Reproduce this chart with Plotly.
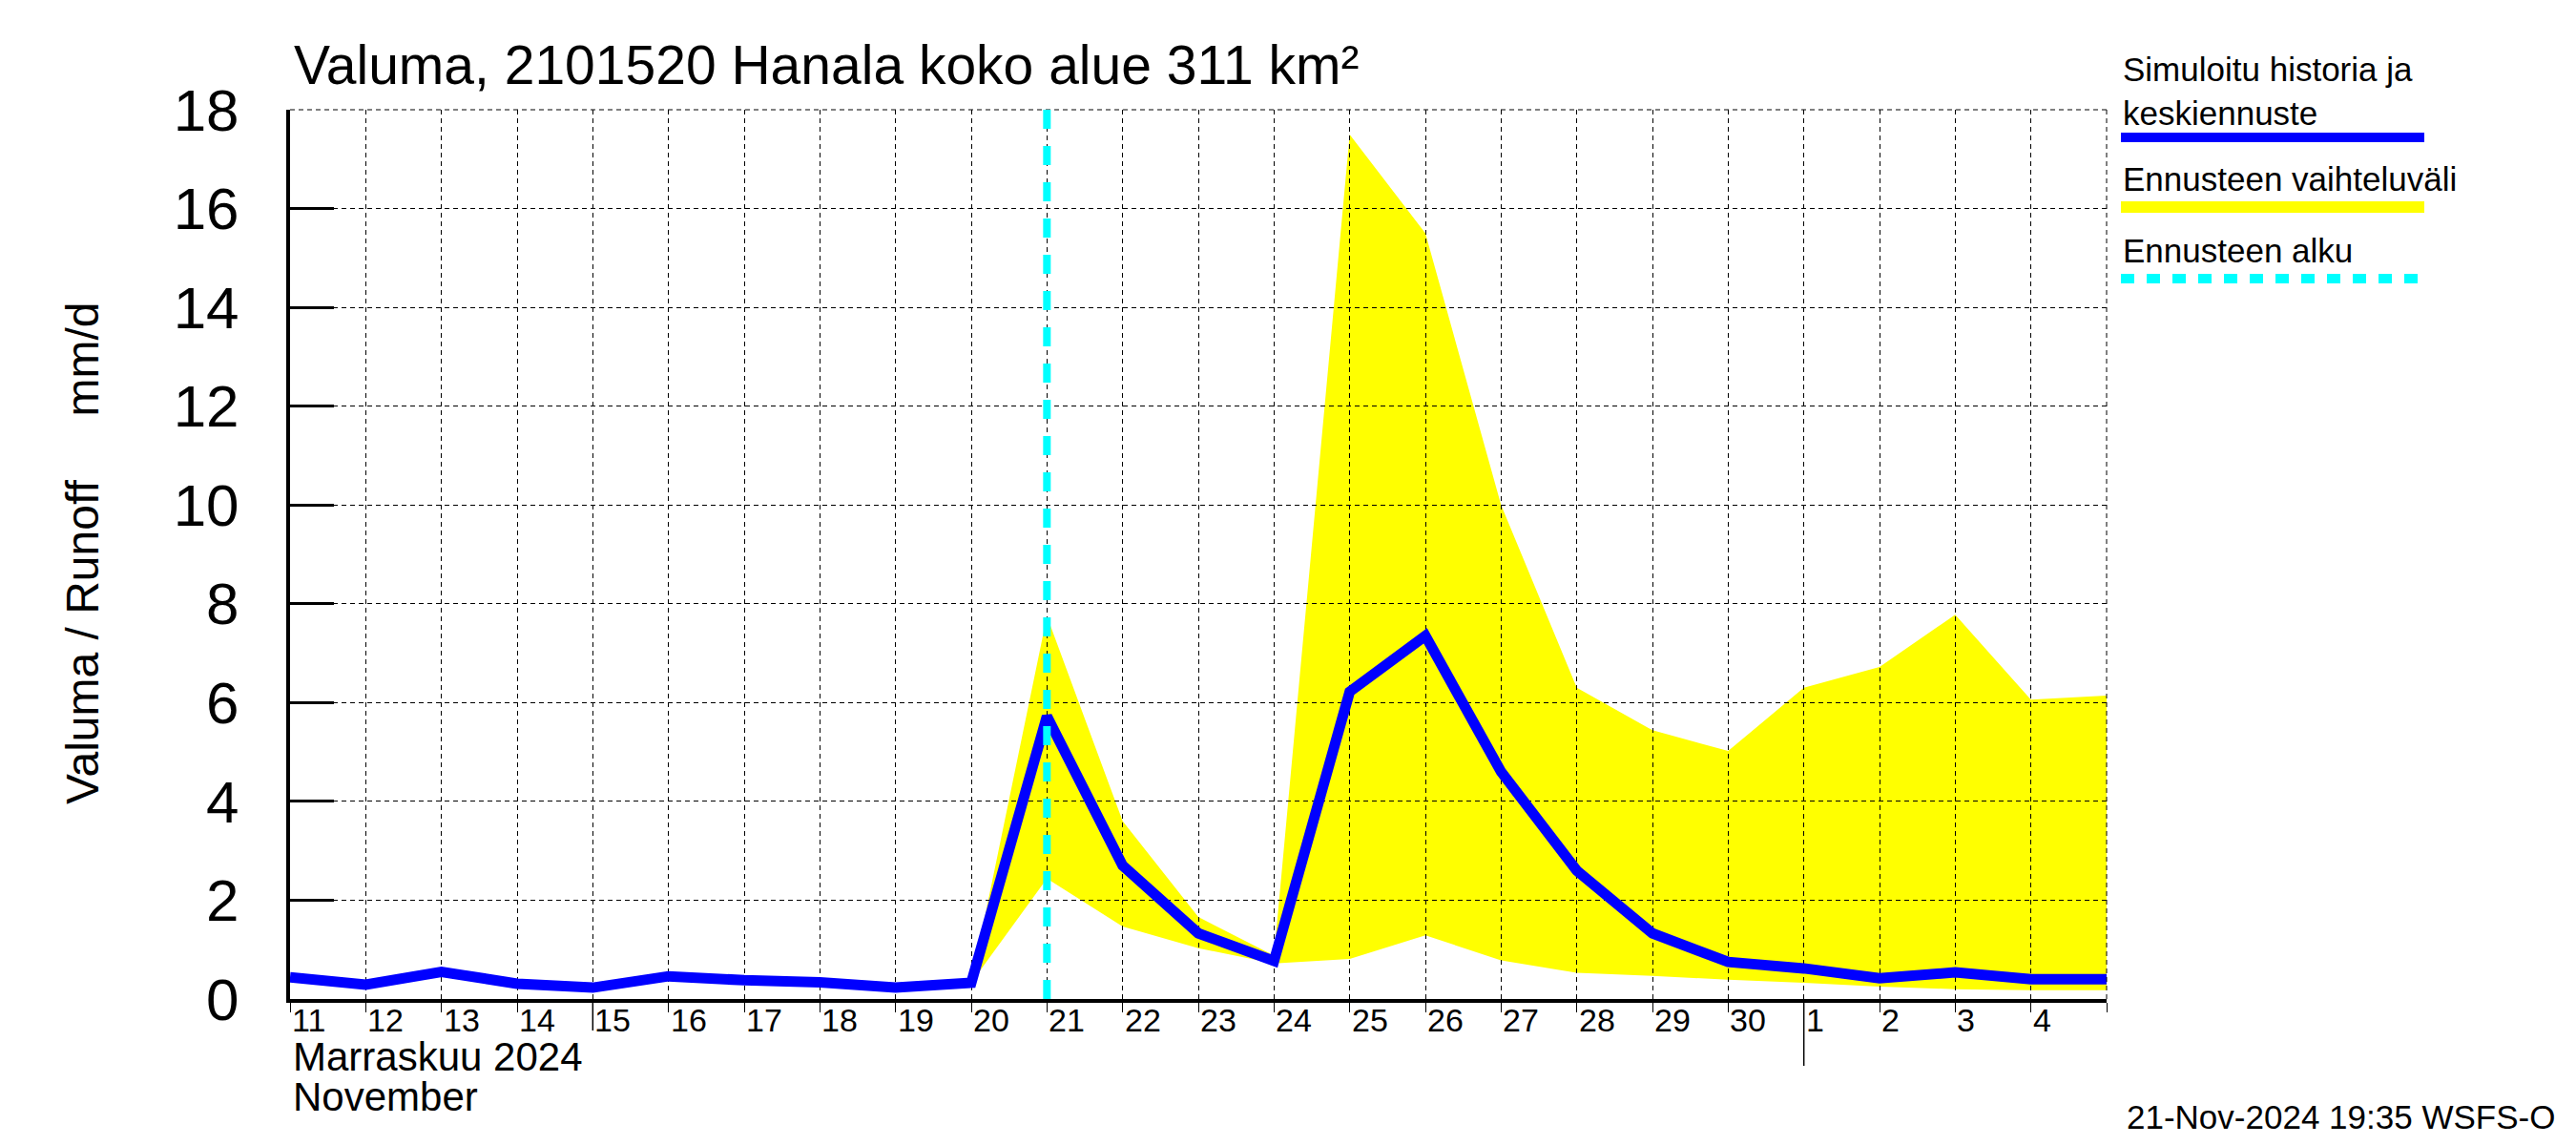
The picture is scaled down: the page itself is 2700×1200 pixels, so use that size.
import plotly.graph_objects as go

# ---------------- data ----------------
dates = ["2024-11-11", "2024-11-12", "2024-11-13", "2024-11-14", "2024-11-15",
         "2024-11-16", "2024-11-17", "2024-11-18", "2024-11-19", "2024-11-20",
         "2024-11-21", "2024-11-22", "2024-11-23", "2024-11-24", "2024-11-25",
         "2024-11-26", "2024-11-27", "2024-11-28", "2024-11-29", "2024-11-30",
         "2024-12-01", "2024-12-02", "2024-12-03", "2024-12-04", "2024-12-05"]
simulated = [0.44, 0.29, 0.55, 0.31, 0.23, 0.46, 0.38, 0.34, 0.23, 0.33,
             5.72, 2.70, 1.33, 0.77, 6.22, 7.35, 4.60, 2.60, 1.33, 0.75,
             0.62, 0.42, 0.54, 0.40, 0.40]

fc_dates = ["2024-11-20", "2024-11-21", "2024-11-22", "2024-11-23", "2024-11-24",
            "2024-11-25", "2024-11-26", "2024-11-27", "2024-11-28", "2024-11-29",
            "2024-11-30", "2024-12-01", "2024-12-02", "2024-12-03", "2024-12-04",
            "2024-12-05"]
fc_upper = [0.33, 7.75, 3.60, 1.66, 0.88, 17.5, 15.5, 10.0, 6.30, 5.44,
            5.02, 6.30, 6.72, 7.78, 6.06, 6.14]
fc_lower = [0.33, 2.44, 1.47, 1.03, 0.72, 0.81, 1.29, 0.78, 0.53, 0.47,
            0.39, 0.33, 0.25, 0.20, 0.18, 0.18]

forecast_start = "2024-11-21"
x_range = ["2024-11-11", "2024-12-05"]
y_range = [0, 18]
y_ticks = [0, 2, 4, 6, 8, 10, 12, 14, 16, 18]

day_tick_dates = dates[:-1]
day_tick_labels = ["11", "12", "13", "14", "15", "16", "17", "18", "19", "20",
                   "21", "22", "23", "24", "25", "26", "27", "28", "29", "30",
                   "1", "2", "3", "4"]
long_tick_dates = ["2024-11-15", "2024-12-01"]
long_tick_lengths = [33, 70]

title_text = "Valuma, 2101520 Hanala koko alue 311 km²"
y_title = "Valuma / Runoff\u00a0\u00a0\u00a0\u00a0\u00a0mm/d"
month_fi = "Marraskuu 2024"
month_en = "November"
stamp = "21-Nov-2024 19:35 WSFS-O"
legend_labels = ["Simuloitu historia ja<br>keskiennuste", "Ennusteen vaihteluväli", "Ennusteen alku"]

# ---------------- layout geometry ----------------
# reference pixel frame of the plot area
L, R, T, B = 304, 2208, 115, 1047
OFF = 8  # page body margin
W, H = 2700 - OFF, 1200 - OFF
FONT = "Liberation Sans, Arial, Helvetica, sans-serif"
BLUE, YELLOW, CYAN = "#0000FF", "#FFFF00", "#00FFFF"


def px(p):
    return (p - L) / (R - L)


def py(p):
    return (B - p) / (B - T)


fig = go.Figure()

# yellow band on subplot 1 (below the grid of subplot 2)
fig.add_trace(go.Scatter(x=fc_dates, y=fc_upper, mode="lines",
                         line=dict(width=0, color=YELLOW),
                         xaxis="x", yaxis="y", showlegend=False, hoverinfo="skip"))
fig.add_trace(go.Scatter(x=fc_dates, y=fc_lower, mode="lines",
                         line=dict(width=0, color=YELLOW), fill="tonexty",
                         fillcolor=YELLOW,
                         xaxis="x", yaxis="y", showlegend=False, hoverinfo="skip"))

# simulated line on subplot 2
fig.add_trace(go.Scatter(x=dates, y=simulated, mode="lines",
                         line=dict(width=11, color=BLUE),
                         xaxis="x2", yaxis="y2", showlegend=False))

grid_dash = "5px,4px"
common_x = dict(type="date", range=x_range, domain=[0, 1])
common_y = dict(range=y_range, domain=[0, 1])

fig.update_layout(
    width=W, height=H,
    margin=dict(l=L - OFF, r=W - (R - OFF), t=T - OFF, b=H - (B - OFF), pad=0),
    paper_bgcolor="white",
    plot_bgcolor="rgba(0,0,0,0)",
    font=dict(family=FONT, color="black"),
    xaxis=dict(**common_x, visible=False, anchor="y"),
    yaxis=dict(**common_y, visible=False, anchor="x"),
    xaxis2=dict(**common_x, anchor="y2",
                tick0=x_range[0], dtick=86400000,
                showgrid=True, gridcolor="black", gridwidth=1, griddash=grid_dash,
                ticks="outside", ticklen=10, tickwidth=1, tickcolor="black",
                showticklabels=False,
                showline=True, linecolor="black", linewidth=4,
                zeroline=False),
    yaxis2=dict(**common_y, anchor="x2",
                tickmode="array", tickvals=y_ticks,
                ticktext=[str(v) for v in y_ticks],
                showgrid=True, gridcolor="black", gridwidth=1, griddash=grid_dash,
                ticks="inside", ticklen=46, tickwidth=3, tickcolor="black",
                tickfont=dict(size=62, family=FONT, color="black"),
                ticklabelstandoff=37,
                showline=True, linecolor="black", linewidth=4,
                zeroline=False),
    showlegend=False,
)

# top and right dashed frame lines
fig.add_shape(type="line", xref="paper", yref="paper", x0=0, x1=1, y0=1, y1=1,
              line=dict(color="black", width=1, dash=grid_dash))
fig.add_shape(type="line", xref="paper", yref="paper", x0=1, x1=1, y0=0, y1=1,
              line=dict(color="black", width=1, dash=grid_dash))

# forecast start line
fig.add_shape(type="line", xref="x2", yref="paper",
              x0=forecast_start, x1=forecast_start, y0=0, y1=1,
              line=dict(color=CYAN, width=8, dash="20px,18px"))

# long ticks
for d, ln in zip(long_tick_dates, long_tick_lengths):
    fig.add_shape(type="line", xref="x2", yref="paper", x0=d, x1=d,
                  y0=0, y1=-ln / (B - T), line=dict(color="black", width=1.5))

# day labels
for d, lab in zip(day_tick_dates, day_tick_labels):
    fig.add_annotation(x=d, xref="x2", y=py(1069), yref="paper", text=lab,
                       showarrow=False, xanchor="left", yanchor="middle",
                       font=dict(size=34, family=FONT, color="black"))

# month labels
fig.add_annotation(x=px(305), xref="paper", y=py(1107), yref="paper", text=month_fi,
                   showarrow=False, xanchor="left", yanchor="middle",
                   font=dict(size=42, family=FONT, color="black"))
fig.add_annotation(x=px(305), xref="paper", y=py(1149), yref="paper", text=month_en,
                   showarrow=False, xanchor="left", yanchor="middle",
                   font=dict(size=42, family=FONT, color="black"))

# timestamp
fig.add_annotation(x=px(2680), xref="paper", y=py(1170), yref="paper", text=stamp,
                   showarrow=False, xanchor="right", yanchor="middle",
                   font=dict(size=35, family=FONT, color="black"))

# title
fig.add_annotation(x=px(306), xref="paper", y=py(68), yref="paper", text=title_text,
                   showarrow=False, xanchor="left", yanchor="middle",
                   font=dict(size=57, family=FONT, color="black"))

# y-axis title
fig.add_annotation(x=px(86), xref="paper", y=py(580), yref="paper", text=y_title,
                   showarrow=False, xanchor="center", yanchor="middle", textangle=-90,
                   font=dict(size=48, family=FONT, color="black"))

# legend
leg_x0, leg_x1 = 2223, 2541
fig.add_annotation(x=px(leg_x0), xref="paper", y=py(95), yref="paper",
                   text=legend_labels[0], showarrow=False, xanchor="left",
                   yanchor="middle", align="left",
                   font=dict(size=35, family=FONT, color="black"))
fig.add_shape(type="line", xref="paper", yref="paper", x0=px(leg_x0), x1=px(leg_x1),
              y0=py(144), y1=py(144), line=dict(color=BLUE, width=10))
fig.add_annotation(x=px(leg_x0), xref="paper", y=py(188), yref="paper",
                   text=legend_labels[1], showarrow=False, xanchor="left",
                   yanchor="middle", font=dict(size=35, family=FONT, color="black"))
fig.add_shape(type="line", xref="paper", yref="paper", x0=px(leg_x0), x1=px(leg_x1),
              y0=py(217), y1=py(217), line=dict(color=YELLOW, width=12))
fig.add_annotation(x=px(leg_x0), xref="paper", y=py(262), yref="paper",
                   text=legend_labels[2], showarrow=False, xanchor="left",
                   yanchor="middle", font=dict(size=35, family=FONT, color="black"))
fig.add_shape(type="line", xref="paper", yref="paper", x0=px(leg_x0), x1=px(leg_x1),
              y0=py(292), y1=py(292), line=dict(color=CYAN, width=10, dash="14px,13px"))

fig.write_html("out.html")
